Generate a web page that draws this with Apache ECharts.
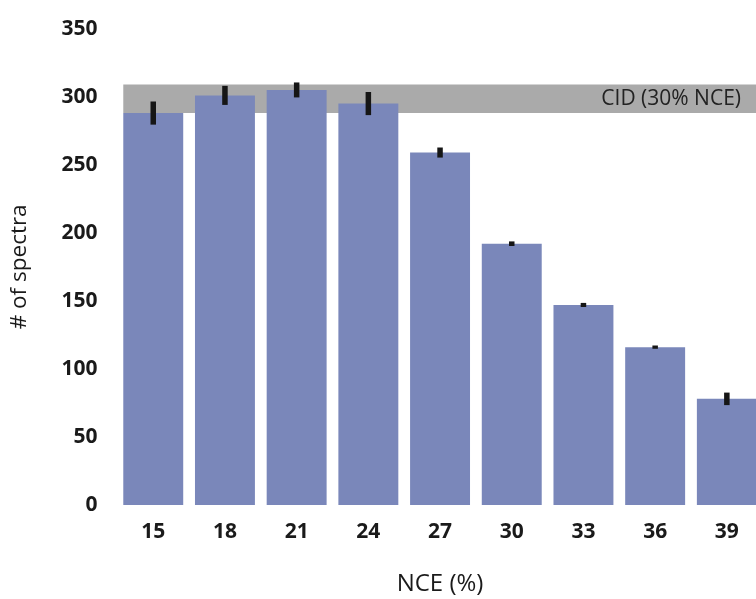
<!DOCTYPE html>
<html>
<head>
<meta charset="utf-8">
<title># of spectra vs NCE</title>
<script src="https://cdn.jsdelivr.net/npm/echarts@6/dist/echarts.min.js"></script>
<style>
  html, body { margin: 0; padding: 0; background: #ffffff; overflow: hidden; }
  #chart { width: 756px; height: 599px; }
</style>
</head>
<body>
<div id="chart"></div>
<script>
// Normalized collision energy settings (%)
const nceLevels = ['15', '18', '21', '24', '27', '30', '33', '36', '39'];
// Mean number of identified spectra at each NCE
const spectraCounts = [288, 301, 305, 295, 259, 192, 147, 116, 78];
// Half-length of the error bar at each NCE
const spectraErrors = [8.5, 7, 5.5, 8.5, 3.7, 1.7, 1.5, 1.2, 4.6];
// Reference range from CID at 30% NCE (low, high)
const cidRange = [288, 309];
const cidLabel = 'CID (30% NCE)';
// Y axis tick settings
const yMin = 0, yMax = 350, yStep = 50;

const FONT = '"Open Sans", "Noto Sans", sans-serif';
const BAR_COLOR = '#7a87ba';

const chart = echarts.init(document.getElementById('chart'), null, { renderer: 'canvas' });

const errorData = nceLevels.map((c, i) => [i, spectraCounts[i] - spectraErrors[i], spectraCounts[i] + spectraErrors[i]]);

chart.setOption({
  backgroundColor: '#ffffff',
  animation: false,
  // The plot runs slightly past the right edge of the canvas, so the last bar is clipped
  grid: { left: 117.4, top: 28.7, width: 645.3, height: 476.3, outerBoundsMode: 'none', containLabel: false },
  xAxis: {
    type: 'category',
    data: nceLevels,
    name: 'NCE (%)',
    nameLocation: 'middle',
    nameGap: 67,
    nameTextStyle: { fontFamily: FONT, fontSize: 24, color: '#1a1a1a' },
    axisLine: { show: false },
    axisTick: { show: false },
    axisLabel: { fontFamily: FONT, fontSize: 21, fontWeight: 'bold', color: '#1a1a1a', margin: 17 }
  },
  yAxis: {
    type: 'value',
    min: yMin,
    max: yMax,
    interval: yStep,
    name: '# of spectra',
    nameLocation: 'middle',
    nameGap: 86,
    nameTextStyle: { fontFamily: FONT, fontSize: 22.5, color: '#1a1a1a' },
    axisLine: { show: false },
    axisTick: { show: false },
    splitLine: { show: false },
    axisLabel: { fontFamily: FONT, fontSize: 21, fontWeight: 'bold', color: '#1a1a1a', margin: 20 }
  },
  series: [
    {
      // CID reference band, spanning from the first bar to the right edge
      type: 'custom',
      z: 1,
      silent: true,
      clip: false,
      data: [[0, cidRange[0], cidRange[1]]],
      renderItem: function (params, api) {
        const cs = params.coordSys;
        const bandW = api.size([1, 0])[0];
        const x0 = api.coord([api.value(0), 0])[0] - bandW * 0.836 / 2;
        const yLo = api.coord([0, api.value(1)])[1];
        const yHi = api.coord([0, api.value(2)])[1];
        const x1 = cs.x + cs.width;
        return {
          type: 'group',
          children: [
            {
              type: 'rect',
              shape: { x: x0, y: yHi, width: x1 - x0, height: yLo - yHi },
              style: { fill: '#aaaaaa' }
            },
            {
              type: 'text',
              style: {
                text: cidLabel,
                x: 741,
                y: (yLo + yHi) / 2,
                align: 'right',
                verticalAlign: 'middle',
                fill: '#222222',
                font: '21px ' + FONT
              }
            }
          ]
        };
      }
    },
    {
      type: 'bar',
      z: 2,
      data: spectraCounts,
      barWidth: '83.6%',
      itemStyle: { color: BAR_COLOR }
    },
    {
      // Error bars drawn as thick vertical strokes
      type: 'custom',
      z: 3,
      silent: true,
      data: errorData,
      renderItem: function (params, api) {
        const lo = api.coord([api.value(0), api.value(1)]);
        const hi = api.coord([api.value(0), api.value(2)]);
        const w = 5.5;
        return {
          type: 'rect',
          shape: { x: lo[0] - w / 2, y: hi[1], width: w, height: lo[1] - hi[1] },
          style: { fill: '#161616' }
        };
      }
    }
  ]
});
</script>
</body>
</html>
